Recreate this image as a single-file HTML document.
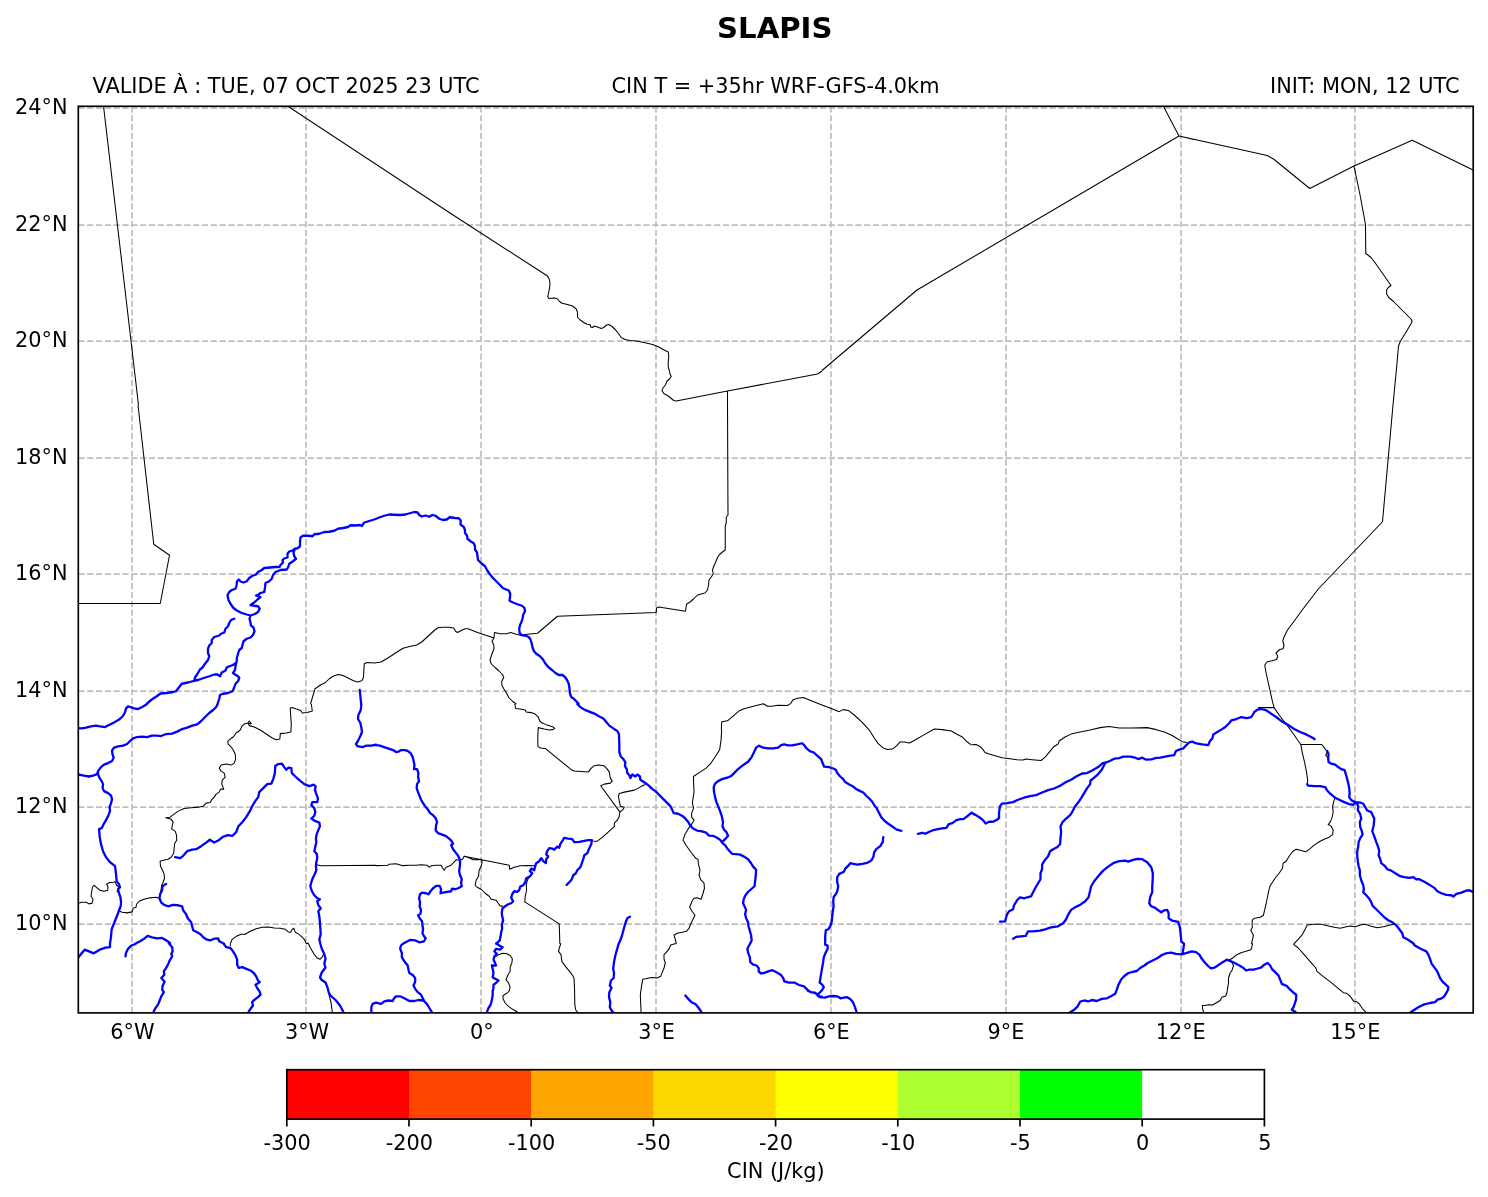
<!DOCTYPE html><html><head><meta charset="utf-8"><title>SLAPIS</title><style>html,body{margin:0;padding:0;background:#fff}svg{display:block}text{font-family:"DejaVu Sans","Liberation Sans",sans-serif;fill:#000}</style></head><body>
<svg width="1488" height="1197" viewBox="0 0 1488 1197">
<rect width="1488" height="1197" fill="#fff"/>
<clipPath id="c"><rect x="78.3" y="106.3" width="1394.9" height="906.6"/></clipPath>
<g clip-path="url(#c)">
<path d="M132 106.3V1012.9M306 106.3V1012.9M481 106.3V1012.9M656 106.3V1012.9M831 106.3V1012.9M1006 106.3V1012.9M1181 106.3V1012.9M1355 106.3V1012.9M78.3 108H1473.2M78.3 225H1473.2M78.3 341H1473.2M78.3 458H1473.2M78.3 574H1473.2M78.3 691H1473.2M78.3 807H1473.2M78.3 924H1473.2" fill="none" stroke="#808080" stroke-opacity="0.5" stroke-width="1.75" stroke-dasharray="6.17 2.66"/>
<path d="M103.5 106 138.5 405M287.5 106 450 213M450 213 547.5 276 549.5 279.75 550 284.75 549 291 547.75 296.5 548.75 298.5 553.75 298 557 298.5 559 301 562 303.25 567.5 304.5 572.5 306 576.25 309 577.5 312.25 577.5 317.25 580 319.75 583.75 322.5 587 324.25 590 324.5 590.75 327 592.5 327.5 594.25 326 597.5 327 601.25 328.5 603.75 327.5 606.25 325.25 608.75 324.5 612 326.5 615.5 329.75 618.75 334 621.25 337.5 625 339.5 630 340.5 636.25 341 645 342.75 652.5 344.5 658.75 347 663.75 349.75 668.25 352 668.75 356 668.25 362.25 668.25 367.25 669.5 371 670 374 671.25 376.5 669.5 379 667 381 665.5 384.75 663 388 662 390.5 663.75 393.5 667.5 395.5 671.25 398.5 673.75 400.5 676.25 401 727.5 391 817.5 374 822 371M727.5 391 727.5 405M822 370.5 917 290 1179 136M1163.25 106 1179 136 1194 139.5M1179 136 1267.25 155.5 1273.5 159 1309.75 188.5 1354 166 1412.25 140.25 1473 170M1354 166 1359.75 193.5 1363.5 213.5 1365.5 224.75 1365.75 253.5 1368.5 255.5 1371 257.5 1374.75 262.25 1391 285.5 1388.5 287.25 1386.75 289.75 1386.5 293.5 1388.5 297.25 1393.5 301.5 1403.5 311.5 1411 319 1412.25 321.5 1406 332.25 1400.5 341 1398.5 346 1396.5 368.5 1393 405M138 405 153.75 544.25 169.5 555.25 160.25 603.5 78 603.5M310.5 704 315 688.75 320.5 685 325.5 682.5 329.25 678.75 333 676.25 338 674.5 343 675.5 348 678 353 680.5 357.5 682 361.75 680.75 363.5 677.5 364.25 663.75 366.75 662.5 374.25 663 381 662 388 658 395.5 653 403 648.25 410.5 646.25 416.75 645 421.75 642 428 636.25 434.25 630.5 438 627.75 443 627.25 450 627.25M727.5 405 728 515 726.25 517 726.25 522.5 725.25 526.25 725.25 550 722.5 552 719.5 554.5 717.5 557.5 715.5 562.5 713.75 566.25 712.5 570 713.25 573.75 711.25 577 709 580 708.5 585 707.5 590 705 593 701.25 594 697.5 595 693.75 598.75 690 602 686.5 604.25 685.5 611.25 658.75 607 656.5 608 656.25 612.5 557.5 616.25 537.5 633.25 525 634.5 521.25 635.5 515.5 634 510.75 632.5 506.25 633.75 500 633.75 494.5 632.5 494 638M450 627.5 453.75 628 455.5 631.25 457.5 632.5 461.25 630.5 465 628.75 468 628.75 472.5 630.5 477.5 632.5 485 635 494 638 492 641.25 493.75 645 494 648.75 492.5 652.5 491.25 656.25 490 660 491.25 663.75 495 667.5 498.75 670.75 502.5 674.5 503.75 677.5 501.75 681.25 501.75 685 503.75 688.75 506.25 692.5 508.75 697.5 512.5 701.25 516.25 704M1393 405 1382.5 521.75 1318.5 588.75 1302.25 610 1287.25 630.5 1284.75 635.5 1282.75 640.5 1284 645.5 1283 648.75 1279.75 649.5 1276 653 1277.75 656.25 1276.5 659.5 1272.25 660.75 1267.25 661.75 1264.75 665 1266 672.5 1273 704M311.31 704 312.31 711.01 307.31 712.41 302.3 713.01 300.7 710.41 296.29 709.01 292.29 707.6 290.28 708.01 290.69 716.02 291.29 724.03 290.89 732.04 286.28 733.04 280.27 733.64 279.87 739.05 276.27 739.65 272.26 738.05 266.25 734.04 260.24 730.03 254.24 727.03 249.23 725.63 248.23 723.63 251.23 723.63 249.23 721.02 247.83 723.03 244.22 724.03 241.82 726.43 240.22 730.03 236.21 733.04 233.21 737.04 230.2 739.05 227.8 741.05 228.2 744.05 231.21 747.06 233.21 750.06 235.21 754.07 235.61 759.07 234.21 763.08 231.21 765.08 226.2 764.08 221.19 765.08 219.19 768.09 221.19 771.09 224.2 773.09 225.2 777.1 222.19 780.1 221.79 784.11 223.8 789.11 220.59 789.11 219.19 792.12 216.19 794.12 214.18 797.12 211.78 799.73 210.18 802.53 206.17 803.13 203.17 806.14 198.16 807.14 191.15 807.74 184.14 808.54 178.13 811.14 174.13 814.15 170.12 817.15 165.72 817.75 171.12 819.15 173.13 822.16 172.13 826.16 171.73 829.17 175.13 831.17 176.53 835.18 176.73 840.18 174.73 843.19 174.13 848.19 173.73 853.2 171.12 857.21 168.12 859.21 163.11 860.21 160.11 861.21 160.51 866.22 162.51 870.22 164.12 874.23 164.52 878.23 163.11 882.24 161.71 885.24 161.11 889.25 160.11 894.26 159.11 898.26 156.1 897.26 150.1 897.86 144.09 899.26 139.08 901.26 136.48 904.27 136.08 907.27 133.07 908.27 132.07 911.88 127.07 912.88 122.06 912.28 119.06 910.68 120.66 906.27 121.06 902.27 120.46 897.26 119.06 893.25 117.05 891.25 119.06 887.25 116.65 885.24 115.05 881.64 113.05 882.24 109.04 882.64 106.64 884.24 108.04 887.25 107.64 890.25 104.03 891.25 100.03 890.25 97.03 887.85 94.02 885.24 92.42 887.25 91.62 892.25 91.02 896.26 93.02 899.26 92.02 903.27 89.01 903.87 86.01 902.27 82.01 902.27 78 903.27M316.32 864.82 321.33 865.82 376 865.22M230.2 943.72 232.21 939.32 236.21 936.31 241.22 934.31 245.22 934.31 250.23 931.31 256.24 928.7 262.25 927.3 268.26 926.9 274.26 927.9 280.27 928.3 285.28 929.3 288.28 931.91 290.69 932.31 292.29 929.3 293.89 928.3 295.29 932.31 298.3 933.91 301.3 936.31 304.3 939.32 306.31 943.72M514.79 704 515.59 708.41 520.19 709.01 525.2 710.01 526.2 712.01 531.21 712.61 535.21 714.01 538.22 717.02 539.82 721.02 542.22 723.03 546.23 724.63 550.23 726.03 553.24 727.03 554.64 728.43 552.64 729.63 549.23 730.03 544.23 729.03 538.22 727.63 537.82 736.04 537.82 746.06 540.22 748.06 545.23 748.46 571.26 769.69 574.27 771.09 588.28 772.09 591.29 768.09 594.29 765.68 598.3 765.08 603.91 765.68 607.31 769.09 609.31 772.09 610.31 778.1 612.32 781.1 610.31 783.11 604.31 784.11 600.7 785.71 619.93 812.15M645.36 784.51 642.36 785.71 638.35 788.11 634.35 790.12 629.34 791.12 624.33 792.12 619.33 793.52 618.33 796.12 619.33 801.13 620.33 806.14 624.33 807.14 623.33 809.14 619.93 812.15 619.33 816.15 617.32 820.16 614.32 823.16 614.32 826.56 610.31 830.17 606.31 833.77 601.3 838.18 597.3 841.18 593.29 841.18M535.21 865.82 528.2 865.42 520.19 865.82 514.19 867.22 509.78 869.22 509.18 865.22 464.12 856.2 462.52 859.21 460.11 860.21 456.11 859.81 453.1 863.21 450.1 865.82 446.09 867.22 444.09 870.22 442.09 867.22 441.09 865.22 436.08 865.22 431.07 865.82 429.07 867.22 427.07 865.22 421.06 864.82 416.05 865.22 410.05 865.22 402.03 865.62 396.03 863.81 389.02 864.22 388.02 865.22 376 865.62M464.12 856.2 469.12 857.81 473.13 859.81 478.14 859.81 481.14 859.21 482.14 862.21 481.14 866.22 479.14 870.22 478.54 876.23 476.13 880.24 475.13 885.24 477.14 887.25 481.14 889.25 485.15 893.25 489.15 896.26 491.15 899.26 496.16 900.26 498.16 903.27 500.17 905.87 503.17 906.27M532.21 873.23 530.21 876.23 527.8 879.24 526.2 884.24 526.6 890.25 525.2 896.26 524.8 901.87 559.25 923.9 559.85 943.72M676.4 943.72 675 938.31 674 935.31 677 933.31 682.01 932.31 686.42 931.31 689.02 928.3 691.02 923.29 693.03 919.29 695.03 915.28 692.02 911.28 689.62 907.27 692.02 901.26 694.03 898.26 697.03 897.86 701.04 899.26 703.04 893.25 704.44 888.25 704.04 883.24 701.04 880.24 699.03 875.23 700.03 870.22 698.43 864.22 698.03 859.21 696.03 858.61 691.02 852.2 686.02 845.19 683.01 840.18 685.01 834.17 688.02 829.17 691.62 824.16 694.03 820.16 691.62 817.15 691.62 813.15 693.63 808.14 692.42 803.13 693.03 798.13 694.03 792.12 693.63 784.11 693.43 776.5 700.03 772.09 706.04 768.09 711.05 763.08 715.06 757.07 719.66 749.66 721.06 740.05 721.66 730.03M839.22 711.61 843.23 709.61 848.23 710.41 854.24 715.01 862.25 722.42 869.26 730.03 874.27 738.05 878.27 743.65 883.28 748.06 887.29 749.46 892.29 749.06 896.3 746.06 899.9 742.05 904.31 742.05 909.32 743.05 914.32 740.45 924.34 734.64 934.35 729.03 942.36 729.63 951.37 731.04 956.38 734.04 962.39 737.04 967.39 742.05 971.6 745.06M972 744.65 976.01 744.45 980.01 746.46 983.01 749.66 985.02 752.47 989.02 754.07 995.03 755.67 1002.04 757.67 1010.05 758.67 1017.06 759.67 1023.07 760.08 1026.07 759.07 1032.08 759.67 1041.09 760.48 1045.1 757.07 1050.1 751.06 1054.11 746.46 1058.12 744.05 1059.12 741.05 1065.12 737.04 1072.13 733.64 1080.15 732.04 1090.16 730.03 1100.17 727.63 1109.18 726.43 1119.2 728.03 1132.22 728.03 1147.24 727.63 1156.25 729.63 1164.26 732.04 1171.27 735.04 1176.27 738.05 1182.28 741.65 1187.29 742.45M1269.6 887.25 1268 894.26 1266.4 902.27 1264.79 909.28 1263.39 915.28 1260.39 917.29 1254.38 918.29 1252.38 919.89 1251.98 924.3 1252.38 927.3 1250.77 930.3 1253.38 935.31 1252.38 940.32 1251.38 943.72M1273.11 704 1274.11 707.6 1258.09 707.6M1274.11 707.6 1279.12 715.01 1286.13 724.03 1294.14 735.04 1300.75 744.45 1321.78 744.45 1324.58 748.06 1327.18 752.06 1325.78 755.07 1328.19 758.07M1300.75 744.45 1302.15 752.06 1304.55 762.08 1306.56 772.09 1307.76 781.1 1307.16 784.11M1335.19 797.73 1333.79 801.13 1332.59 807.14 1333.19 812.15 1332.19 817.15 1330.19 822.16 1328.19 824.56 1331.19 826.16 1333.19 830.17 1332.59 834.58 1329.19 837.18 1324.18 839.18 1319.17 841.78 1314.17 845.19 1310.16 848.59 1305.76 851.8 1301.15 850.6 1296.14 849.19 1292.54 851.8 1289.13 856.2 1286.13 861.21 1283.12 863.21 1282.52 868.22 1279.12 873.23 1275.11 878.23 1271.11 884.24 1269.51 887.25M1294.14 943.72 1298.15 939.32 1302.55 934.31 1305.15 929.3 1307.16 924.9 1314.17 924.3 1321.18 924.3 1328.19 925.9 1334.19 927.3 1340.2 928.3 1345.21 926.9 1350.22 925.9 1355.22 926.7 1360.23 924.9 1365.24 924.3 1370.24 925.9 1377.25 927.7 1383.26 926.7 1389.27 925.3 1394.27 924.3M721.33 730 721.67 721.67 727.5 720.83 733.33 715.83 739.17 710.83 744.17 708.67 753.33 706.33 763.33 703.83 767.5 706.17 771.67 706.17 778.33 705.33 787.5 705.5 790.83 703.33 793 699.67 797.5 698.33 803.33 697.5 810 700.33 820 704.17 830 708 839.17 711.67M230.17 944 230.5 946M306.33 944 308 943 310.5 948 313.83 953.83 317.17 958 320 959.33 322.67 956.33 323.83 953M328.75 993.75 331 1002.5 332.5 1013.75M495.17 957.17 498.5 954.67 502.67 953.33 506.83 953.83 510.17 955.5 512.33 958.83 511.83 963 510.17 967.17 510.17 971.33 507.67 975.5 506 979.67 508.5 983 510.17 987.17 509 991.33 506 993.83 503 995.5 503 998.83 505.17 1003 508.5 1006.33 512.67 1009.33 517.67 1012.17 520.17 1013.83M559.83 943.67 560.67 943.83 559.33 948 558.5 951.33 561 954.67 561.83 961.33 566 967.17 570.17 972.17 572.67 975.5 574 978M574 978 574.5 988 574.83 1004.67 575.67 1009.67 577.33 1012.17 579 1013.83M676.33 943.67 674.83 943.83 670.67 945 669.33 948.33 666.5 952.17 664 954.67 664 958.83 665.33 963 664 968 662.33 972.17 660.67 976.33 657.33 978 652.33 977.5 649 978 645.67 978.83 642.67 979.33 641.5 986.33 640.33 994.67 640.67 1003 641.17 1013.83M1251.33 943.67 1252.67 943.83 1251 949.67 1246 951.33 1241 952.67 1236.83 954.67 1232.67 958 1229.33 960 1231.83 962.17 1233.5 965.5 1232.33 969.67 1230.17 973 1228.5 978 1228.5 983 1227.67 988 1226.83 993 1225.67 996 1221.83 997.17 1220.17 1000.5 1216 1003 1212.67 1005 1208.5 1004.67 1205.17 1005.5 1202.33 1005.5 1202.67 1008.83 1204 1013.83M1294.17 943.67 1293.67 944.33 1298.33 948 1304.17 954.67 1310 961.33 1315.83 968 1317 971.33 1323.33 976.67 1330 981.67 1336.67 987.17 1343.33 992.67 1346.67 993.33 1350 996 1352.5 999.67 1353.67 1001.33 1356.67 1001.67 1359.17 1003.83 1362.5 1008.83 1365.83 1012.17 1367.5 1014.33" fill="none" stroke="#000" stroke-width="1.05" stroke-linejoin="round"/>
<path d="M450 517 446.75 519.5 443 520 439.25 518.75 435.5 515.75 432.5 515 429.25 516.75 425.5 515.5 421.75 516.5 419.25 515 417.5 512.5 414.25 512 410.5 513 405.5 514.5 400.5 515 394.25 514.75 389.25 514.5 384.25 515.75 379.25 517.5 374.25 519.5 369.25 521 364.25 522.5 361.75 526 360 525 355.5 525.5 350.5 525.25 348 527 343 528 338 528.75 334.25 530.75 329.25 531.75 324.25 532 319.25 533.75 314.25 534.25 312.5 536.25 308 535.75 303 535.75 300.5 537.5 300 541.25 300 546.25 297.5 548.25 295 548.75 292.5 550.5 289.25 551.5 287.5 553.75 287.5 557.5 284.25 558.5 282.5 560 283 562.5 280.5 565 279.5 567 275.5 567 270.5 567.5 264.25 568 261.75 570 258 572 256 574.5 252.5 575.75 249.25 578 246.75 581.25 243.5 582.5 240.5 581.5 238.75 579.5 237 581.25 236.5 585.5 235.5 588.75 231.75 590 229.25 592 227.5 595 228.5 600 230.5 603.75 233 607.5 236.75 610.5 241.75 613 246.75 614.5 250.5 615.5M295 548.75 293.5 552.5 294.25 556.25 296 558.75 293 561.25 289.25 563.75 288 567.5 286.75 569.5 280.5 570 275.5 572 273 575 271.75 578.75 269.25 581.25 265.5 583 265 587.5 264.25 592 260.5 593 258.5 594.5 256 595.5 260.5 597 257.5 599.5 254.25 602.5 250.5 605 254.25 605.75 258 606.25 259.75 608.75 258 612 255 614 250.5 615.5 249.5 618.75 250.5 622.5 251 625.5 253.5 627.5 254.5 631.25 253 635 250.5 637.5 246.75 638.75 243.5 641.25 242.5 645 241.75 648 239.25 650 238 653.75 237 657.5 236.5 662.5 235.5 666.25 235 670 233 673 235 674.5 238 676.25 239.25 678 238 681.25 235.5 683.75 234.25 687.5 232.5 691.25 228 693 223 693.75 220 695 219.25 698.75 217.5 704M234.25 618.75 231 620 229.25 623 228 626.25 225.5 628.75 224.25 632.5 221 633.75 219.25 635.5 214.25 637 211.75 640 211.75 643 209.25 645.5 208 648.75 208 653 209.25 656.25 208 660 205 663.75 202.5 667.5 200 669.5 197.5 673.75 195 677.5 194.25 680.75M236.5 662.5 233 665 229.25 666.25 226.75 667.5 225.5 670.5 221.75 672.5 220 676.25 217.5 674.5 214.25 674.5 209.25 676.25 203 678.25 198 680 194.25 680.75 188 682.5 181.75 683.75 179.25 687 176 691.25 173 692 166.75 693 160.5 693.5 156.75 696.25 151.75 699.5 146.75 703.75M450 517.25 455 518 458.75 518.25 460.75 520.5 460.5 524.5 463.75 527 465 530 465 533 467 535.5 467.5 538.75 470.5 541.25 473.75 543.25 475 546.25 475 549.5 477 552.5 477.5 556.25 478 560 481.25 563.25 485 566.25 487 570 489.5 573.75 492.5 577.5 496.25 581.25 500 585 503 588.25 506.25 589.5 508.75 590.5 510.25 593.75 510 597.5 509.5 600.75 513 602.5 517.5 604.25 522 605.75 524.5 608 525 611.25 523.25 614.5 522.5 618.75 521.25 622.5 520 625 519.25 628.75 519.5 632.5 521.25 635 525 635.5 528.75 637 530.5 639.5 531.75 643.75 532.5 647.5 534 651.25 536.25 653.75 540 656.25 543 659.5 545 663 548 666.75 552 670 555.5 673 558.75 675 562.5 675 565 677 567 680 568.75 683.75 569.5 688.75 570 693.75 571.25 697 573.75 698.75 576.25 701.25 578.75 704M147.09 704 143.09 706.4 138.08 709.01 134.08 708.41 130.47 707 128.07 706.4 126.06 708.41 125.06 712.01 123.06 716.02 119.06 719.62 114.05 722.42 109.04 725.03 105.04 727.03 100.03 726.43 96.02 725.63 91.02 726.43 86.01 727.63 82.01 728.43 78 728.03M217.59 704 216.19 707 213.18 710.01 209.18 713.01 206.17 716.02 203.17 719.02 200.16 722.02 197.16 724.43 192.15 725.63 187.15 727.63 182.14 729.03 177.13 731.64 172.13 733.64 166.12 734.04 161.11 736.04 157.11 735.64 152.1 735.64 147.09 737.04 142.09 736.64 137.08 737.04 133.07 738.45 130.07 741.05 127.07 744.05 123.06 745.66 118.05 746.46 114.05 747.66 112.05 750.46 112.45 754.07 113.65 757.67 112.05 761.08 108.04 763.08 104.03 764.68 101.03 767.08 98.03 771.09 97.03 774.09 93.02 775.7 89.01 776.5 84.01 775.7 78 774.49M98.03 771.09 98.03 774.09 99.63 778.1 101.63 781.1 103.03 784.11 102.63 788.11 104.03 791.12 108.04 793.12 111.04 795.72 112.05 799.13 111.04 803.13 109.64 807.14 110.04 811.14 108.44 815.15 106.04 820.16 103.63 824.16 101.63 828.17 99.03 829.17 99.63 836.18 101.03 844.19 103.03 851.2 106.04 857.21 110.04 862.21 115.05 866.22 116.05 874.23 116.65 881.24 119.06 884.24 120.06 887.25 118.05 889.25 119.06 893.25 120.46 897.26 121.06 902.27 120.66 906.27 119.06 910.28 117.65 914.28 115.65 919.29 113.65 924.3 111.65 929.3 111.04 936.31 110.04 943.72M175.13 857.21 180.14 858.21 183.14 855.8 187.15 851.2 192.15 849.6 196.16 849.19 201.17 846.19 206.17 842.59 209.78 839.78 214.18 842.59 218.19 840.58 223.19 836.58 228.2 835.18 232.21 835.78 236.21 832.17 238.22 826.56 242.22 822.16 246.23 817.15 249.83 811.14 252.23 806.14 255.24 801.13 258.24 797.12 259.24 792.12 263.25 788.11 267.25 784.11 271.26 783.71 273.26 779.1 274.86 773.09 275.26 766.08 278.27 764.08 281.87 763.68 284.28 767.08 286.28 769.69 288.28 767.69 291.29 768.09 291.89 773.09 295.29 776.5 299.3 780.1 304.3 784.11 309.31 786.11 313.92 784.71 315.72 786.51 314.92 789.72 316.32 794.12 317.92 798.13 317.32 802.13 312.31 802.13 311.31 805.14 314.32 808.14 315.32 812.15 314.32 815.75 311.31 818.55 314.32 820.56 319.32 822.56 319.92 826.16 318.32 830.17 316.72 834.17 315.92 838.18 316.32 842.19 315.32 846.59 314.32 851.2 316.72 853.8 317.32 857.81 316.32 862.21 315.92 866.22 316.32 870.22 314.72 874.23 312.72 878.23 311.31 882.24 310.31 886.24 311.91 891.25 314.32 895.26 317.32 898.26 319.92 899.26 317.32 901.26 318.32 905.27 320.73 908.27 318.32 911.28 319.32 916.28 319.92 922.29 320.33 928.3 320.73 934.31 319.32 939.32 320.33 943.72M361.38 704 360.78 710.01 358.38 715.01 357.98 719.02 360.38 723.03 361.38 728.03 361.98 732.04 360.38 736.04 358.38 740.05 355.97 744.05 357.38 746.06 362.38 747.06 366.39 745.66 371.39 745.66 376 744.65M166.12 883.84 162.51 886.24 162.11 890.25 160.11 894.26 159.51 898.26 161.11 902.27 164.12 904.87 168.12 906.27 173.13 904.87 178.13 905.27 182.14 906.27 183.14 910.28 186.15 914.28 187.75 918.29 191.15 922.29 192.15 926.3 193.15 930.3 197.16 932.31 200.56 934.31 203.17 937.31 206.17 939.32 210.18 940.32 214.18 938.72 218.19 938.31 219.19 941.32 224.2 943.72M135.08 943.72 140.08 941.32 144.09 938.72 147.69 935.91 152.1 937.31 157.11 938.31 162.11 937.91 166.12 940.32 170.12 942.92M376 745.06 380.01 745.66 384.01 747.06 388.02 748.46 393.02 750.06 396.03 752.06 398.43 751.66 401.03 750.06 405.04 750.06 408.04 751.06 411.05 753.67 412.65 757.07 413.65 761.08 414.45 765.08 414.05 769.09 417.06 769.09 418.46 773.09 418.06 777.1 419.06 781.1 417.06 784.11 416.65 788.11 418.06 792.12 419.66 796.12 421.06 799.73 423.06 803.13 425.07 806.14 427.67 809.14 430.07 813.15 433.08 815.15 435.68 818.15 437.08 822.16 436.08 825.16 435.68 830.17 438.08 833.17 442.09 834.58 446.09 836.18 449.1 838.58 451.7 841.18 453.1 843.79 451.1 845.19 453.1 849.19 455.71 852.6 458.11 855.8 459.71 859.21 460.11 863.21 459.71 867.22 459.11 871.22 460.11 875.23 461.72 879.24 461.11 883.24 461.72 886.24 458.11 888.25 455.11 889.25 452.1 888.65 451.1 891.25 447.1 891.85 443.09 892.65 440.49 893.25 441.09 889.25 439.69 885.84 436.08 885.84 433.08 888.25 430.47 891.25 428.47 894.26 426.07 893.25 422.06 892.65 420.06 894.26 419.06 898.26 420.06 902.27 419.66 906.27 421.06 910.28 420.46 913.88 418.06 915.28 419.66 918.29 422.06 921.29 422.46 925.3 423.06 929.3 422.46 933.31 424.06 936.31 425.67 938.31 424.06 941.32 419.06 942.32 415.05 940.32 410.05 939.92 406.04 941.92 403.04 943.72M577.27 704 580.27 707 584.28 709.61 589.29 711.61 594.29 713.61 599.3 716.42 603.31 718.42 606.31 722.02 609.31 725.63 613.32 728.43 617.32 731.04 618.93 734.04 619.33 744.05 619.33 752.06 620.73 756.47 623.33 759.07 625.33 762.08 624.93 766.08 626.74 769.09 627.34 773.09 629.34 775.1 630.34 778.1 632.34 774.49 635.35 776.5 637.35 774.49 639.95 776.5 640.35 779.7 643.36 781.7 646.36 783.71 649.37 786.11 652.37 789.11 655.38 791.12 658.38 794.12 661.38 797.12 664.39 800.13 667.39 803.13 670.4 806.14 672.4 810.14 673.6 813.15M566.66 884.84 569.26 882.24 571.86 879.24 573.26 875.23 575.87 873.23 577.27 870.22 580.27 867.22 581.88 863.21 583.28 859.21 584.28 855.2 587.28 853.2 589.29 848.19 591.29 844.19 591.89 840.18 588.28 840.18 584.28 840.78 579.27 841.78 574.27 842.19 572.26 839.18 568.26 838.58 564.25 837.78 562.25 841.18 560.25 844.19 559.25 847.79 557.24 846.59 554.24 849.8 552.24 848.59 549.23 848.19 547.23 851.2 546.23 854.2 548.23 856.6 546.23 859.21 545.83 863.21 543.22 861.21 541.22 858.21 539.22 861.21 536.22 863.21 535.21 866.22 534.21 870.22 531.21 868.62 529.81 871.22 532.21 873.23 530.21 876.23 526.2 878.23 525.2 882.24 523.2 885.24 520.19 886.65 519.19 890.25 517.19 891.85 514.19 891.25 512.18 894.26 511.18 897.86 513.18 901.26 511.18 903.27 508.18 904.27 505.17 906.27 502.57 908.27 501.77 912.28 502.17 916.28 503.17 920.29 501.77 924.3 502.17 928.3 501.17 932.31 500.57 936.31 499.77 940.32 496.16 943.72M629.94 916.69 627.34 918.29 625.33 923.29 623.93 928.3 622.33 934.31 620.33 940.32 618.73 943.72M674 813.15 678.01 813.75 682.01 815.75 685.01 818.15 688.02 821.76 690.02 825.16 693.03 828.57 697.03 830.57 702.04 831.37 706.04 832.57 709.05 835.58 713.05 835.78 717.06 837.78 720.46 840.18 722.47 843.19 725.07 845.19 727.07 848.19 729.67 851.2 732.08 853.8 736.08 854.2 740.09 854.6 744.09 856.6 748.1 859.21 751.1 863.21 753.11 866.62 756.11 869.82 755.71 876.23 755.11 881.24 754.51 886.24 751.1 889.25 747.7 892.25 745.1 895.86 743.69 899.26 743.09 903.27 744.49 906.27 746.1 909.88 745.1 914.28 746.1 918.29 748.1 922.29 748.5 926.3 749.7 930.3 751.1 935.31 751.7 940.32 750.1 943.72M722.06 842.19 725.07 839.18 728.07 835.78 726.47 832.17 724.07 829.77 722.47 826.16 723.07 822.16 722.06 817.15 720.46 812.15 718.46 807.14 716.46 802.13 715.06 797.12 714.05 792.12 713.65 787.11 715.06 783.71 718.06 781.1 722.06 779.1 727.07 777.7 731.08 776.1 734.08 773.09 738.09 769.09 743.09 765.08 748.1 761.68 751.7 757.07 754.11 752.06 756.11 747.66 759.11 745.66 763.12 747.66 768.13 748.46 773.13 748.46 778.14 747.66 781.14 745.06 784.15 744.45 788.15 745.46 792.16 745.46 797.17 744.45 802.17 743.25 804.17 745.06 806.58 748.46 809.78 751.06 813.79 752.47 817.19 755.67 821.2 759.07 822.6 763.08 824.2 766.68 829.21 767.08 833.21 768.49 835.82 769.69 837.22 773.09 840.22 776.5 843.23 779.1 845.23 782.1 849.24 784.51 853.24 786.51 856.24 789.11 860.25 791.12 863.25 792.52 866.26 795.72 869.26 798.53 872.27 801.73 874.27 805.14 876.67 808.14 878.67 812.15 881.28 817.15 884.28 820.56 888.29 823.76 892.29 826.56 896.3 829.37 901.31 830.77M917.93 833.77 922.33 832.77 925.34 833.77 929.34 831.77 934.35 829.77 940.36 828.57 946.37 827.77 948.77 824.16 952.37 823.16 956.38 820.16 960.38 819.15 963.39 819.15 967.39 816.15 971.6 812.55M883.28 837.18 882.68 842.19 880.28 846.19 876.27 849.19 874.27 852.2 873.27 857.21 871.26 860.61 867.26 862.81 862.25 863.81 857.25 864.62 853.24 863.81 850.24 863.21 847.83 866.22 845.23 868.62 843.83 871.83 839.22 873.83 837.22 877.23 837.22 882.24 838.22 886.24 837.22 891.25 835.82 894.26 833.81 896.66 833.21 901.26 833.61 906.27 832.81 911.28 832.21 916.28 831.81 921.29 830.21 926.3 828.21 929.3 825.8 930.3 825.2 936.31 825.2 943.72M972 813.15 976.01 815.15 980.01 817.75 983.01 820.16 985.62 823.56 989.02 821.76 993.03 821.76 997.03 819.76 999.04 818.15 999.04 812.15 1000.04 806.14 1002.04 803.53 1007.05 803.13 1013.06 802.13 1018.06 799.73 1024.07 797.73 1030.08 796.12 1036.09 795.12 1042.09 792.52 1048.1 790.12 1054.11 788.51 1060.12 785.71 1065.12 782.51 1071.13 779.7 1076.14 776.5 1082.15 773.49 1087.15 773.09 1092.16 770.49 1098.17 767.08 1102.17 763.48 1106.18 762.48 1110.19 760.68 1114.19 758.67 1119.2 758.07 1123.2 756.67 1130.21 756.67 1135.22 757.67 1138.22 759.07 1142.23 757.67 1146.23 759.67 1151.24 759.47 1155.25 758.07 1160.25 757.67 1165.26 756.67 1170.27 755.67 1174.27 755.07 1175.87 751.06 1179.28 749.66 1183.28 748.46 1186.29 745.06 1189.29 742.45 1192.3 741.65 1196.3 743.45 1202.31 744.45 1208.32 745.06 1209.92 741.05 1212.32 738.45 1213.32 734.44 1217.33 732.04 1221.33 729.63 1225.34 727.03 1229.35 723.03 1231.35 720.42 1236.35 719.02 1241.36 717.02 1246.37 718.02 1251.38 717.02 1254.38 712.01 1257.38 709.61 1261.39 709.01 1266.4 710.41 1269.6 712.41M1105.18 763.08 1104.18 765.08 1101.77 769.69 1098.17 774.09 1094.16 777.7 1090.56 780.5 1090.16 784.11 1087.15 788.11 1084.15 793.12 1081.15 798.13 1078.14 802.53 1074.54 807.14 1072.13 812.15 1070.13 815.15 1066.13 818.55 1062.52 822.16 1060.52 826.16 1061.12 832.17 1060.52 838.18 1060.12 844.19 1057.11 847.19 1053.11 849.19 1050.1 851.2 1048.1 856.2 1044.5 860.61 1042.09 864.62 1042.09 869.22 1040.49 873.23 1040.49 879.24 1038.09 883.24 1035.69 887.25 1033.08 892.25 1031.08 896.26 1027.07 897.26 1024.47 898.26 1020.06 897.26 1017.06 900.26 1014.06 905.27 1013.06 909.28 1009.05 911.28 1007.05 914.28 1005.04 921.29 1000.04 921.69M1013.06 938.72 1016.06 936.91 1021.07 936.31 1025.67 935.91 1028.08 931.31 1033.08 931.31 1040.09 930.7 1045.1 929.3 1051.11 927.3 1058.12 926.3 1063.12 923.29 1066.13 919.29 1068.13 914.68 1071.13 909.88 1075.14 907.27 1080.15 904.87 1085.15 901.26 1088.56 897.26 1089.76 892.25 1091.16 886.24 1094.16 881.24 1098.57 875.83 1103.18 870.62 1108.18 866.62 1113.19 863.21 1119.2 861.21 1125.21 860.61 1128.21 861.61 1132.22 860.21 1137.22 858.81 1142.23 859.21 1147.24 862.21 1151.24 867.22 1152.84 873.23 1152.64 880.24 1152.24 886.24 1152.24 892.25 1150.24 896.66 1149.24 903.27 1151.24 906.27 1155.25 907.87 1158.25 910.28 1161.25 912.28 1164.26 910.28 1167.26 909.88 1168.66 913.28 1168.66 918.29 1172.27 920.69 1178.28 921.89 1179.88 927.3 1180.68 934.31 1181.28 941.32 1183.88 943.72M1269.51 712.41 1270.11 713.01 1276.12 717.02 1282.12 721.62 1288.13 725.03 1294.14 729.03 1300.15 732.04 1306.16 734.44 1311.16 737.04 1314.57 739.05M1307.16 784.11 1308.16 785.71 1314.17 786.11 1320.17 786.11 1325.18 787.11 1327.18 790.52 1330.19 793.72 1333.19 796.12 1335.19 797.73 1339.2 799.73 1344.21 802.13 1349.21 804.13 1353.22 804.74 1355.82 802.13M1327.18 751.06 1328.59 754.07 1328.19 758.07 1328.59 762.08 1331.19 763.68 1335.19 764.68 1338.2 767.08 1341.2 769.09 1344.61 770.09 1345.81 774.09 1347.21 779.1 1348.21 783.11 1349.21 788.11 1349.61 793.12 1349.21 797.12 1351.22 800.13 1355.22 802.13 1360.23 802.53 1363.23 803.73 1365.24 807.14 1367.24 810.54 1371.24 812.15 1372.65 815.15 1374.25 818.55 1373.85 824.16 1373.25 827.17 1372.24 831.17 1373.85 835.18 1375.25 839.18 1376.65 843.19 1378.25 847.19 1379.25 851.2 1378.65 855.2 1380.26 859.21 1381.26 863.21 1384.66 865.82 1387.26 869.22 1391.27 870.62 1395.28 873.23 1399.28 875.83 1404.29 877.23 1409.29 877.83 1413.3 877.23 1416.3 879.24 1419.31 879.24 1424.31 881.84 1429.32 884.64 1434.33 887.85 1437.33 891.25 1441.34 893.25 1446.34 894.86 1451.35 895.26 1453.35 896.66 1456.36 893.85 1461.36 892.65 1466.37 890.65 1469.38 890.25 1472.38 891.65M1356.22 802.53 1358.23 806.14 1357.83 810.14 1360.23 814.15 1361.23 818.55 1359.83 822.16 1360.23 827.17 1361.83 831.17 1362.63 834.58 1360.23 838.18 1358.63 842.19 1358.23 846.59 1357.22 851.2 1357.22 856.2 1357.83 861.21 1358.63 866.22 1359.83 870.22 1359.83 875.23 1361.23 880.24 1363.23 885.24 1363.83 889.25 1363.23 892.25 1366.24 895.26 1369.24 898.66 1371.24 902.27 1372.65 905.87 1376.25 909.28 1380.26 913.28 1384.26 917.29 1388.27 920.29 1392.27 922.29 1396.28 925.3 1399.28 929.3 1402.28 933.31 1403.29 937.31 1407.29 939.32 1410.3 941.32 1413.9 943.72M110 943 110 947.17 105.5 947.67 100.5 949.33 93.83 953.33 84.67 949.67 78 957.67M135.5 944 131.33 945.5 128 948.83 126 953 125.5 956.33M168.83 943.33 172.17 947.17 172.67 951.33 171.33 953.83 172.17 956.33 169.67 960.5 168 964.67 165.5 968.83 163.83 971.33 164.33 974.67 161.33 978 164.67 981.67 162.67 985.5 162.17 989.67 163.83 992.17 161.33 996.33 159.67 1000.5 158 1004.67 155.5 1008 153.83 1011.33 153 1013.83M223.83 944 226.33 947.17 230.5 948 233 951.33 235.5 955.5 237.17 959.67 237.17 964.67 238.83 968 242.17 967.17 246.33 968.83 250.5 970.5 253.83 973 256.33 976.67 258 980.5 259.67 982.17 255.5 984.67 257.17 988 259.67 991.67 260.5 994.67 258 997.17 254.67 999.67 252.17 1002.17 253 1005.5 250.5 1008.83 248.83 1011.33 248 1013.83M320.25 943.5 321.75 948.75 324.25 953.75 325.5 958.75 324.25 963.75 325.5 967.5 321.75 972.5 320 977.5 321.75 980 325.5 982.5 327.5 987.5 328.75 992.5 330.5 995.5 335.5 1000 340 1005.5 343 1011.25 344.25 1015M403 943.67 401 945.5 400.17 948.83 401.83 953 401.83 957.17 404.33 961.33 407.67 965.5 408.5 969.67 409.33 973 412.67 975 415.17 978 415.17 981.67 413.5 985.5 415.17 988.83 417.67 992.17 421 994.67 422.67 998 424.33 1001.33 426.83 1003.83 429.33 1008 431.83 1012.17 432.67 1014.33M422.67 1000.5 418.5 1000 414.33 1001 409.33 1001 404.33 998.33 400.17 996.33 396 996.33 394 998.33 392.67 1001 388.5 1000.5 384.33 1001.33 381 1003.83 376 1002.67 372.67 1003.83 371.33 1007.17 371.33 1013.83M496.17 943.33 496.83 943.83 499.33 945.5 502.67 947.17 500.17 949.67 496 948.83 494.33 951.33 496.83 953.83 494.33 956.33 493.5 959.67 495.17 963 496 965.5 491.83 965.5 492.67 968.83 493.5 973 492.67 977.17 495.17 978.83 498.5 980.5 496 983 493.5 984.67 493.5 988 492.67 991.33 492.67 995.5 491.83 999.67 491 1003.83 490.17 1005.5 488.5 1008 486.83 1012.17 486 1014.33M618.67 943.67 617 949.67 615.33 955.5 614 962.17 613.17 968.83 614 973 613.67 978 611 980.5 609.83 985.5 611.5 988 609.33 992.17 609 997.17 610.33 1002.17 609.83 1007.17 611.5 1010.5 614.83 1013.83M685.33 995.5 688.17 998.83 691.5 1002.17 695.67 1004.33 698.67 1008 701.5 1012.17 702.67 1014.33M750.17 943.67 749 945.5 747.33 948.83 748.17 953 749.83 957.17 750.33 962.17 753.17 964.67 756.5 965.5 758.67 968 758.67 971.33 760.67 973.33 764 973 768.17 971.33 772.33 970.17 776.5 972.17 780.67 974.67 783.17 978 784.33 981.33 789 982.67 794.83 982.67 799 985 804 986.33 807.33 989.67 810.67 992.17 814.83 992.67 818.17 994.67 819.83 996.67 822 996.67M825.17 943.67 825.17 944.67 827.67 945.5 827.67 948.83 825.5 953 823.83 957.17 823 963 821.83 969.67 820.67 976.33 819.67 982.67 822.17 984.67 823.83 987.17 822.17 990 819.67 992.67 817.67 994.67M808 991 811.33 992.17 815.5 993 817.67 995.5 819.67 997.17 824.67 997.67 828.83 996.33 833.83 996 838 996.67 840.5 998.33 843.83 997.67 847.17 997.17 850.5 999.33 853 1002.17 854.67 1006.33 856.33 1011.33 857 1014.33M1067.67 1014.33 1070.17 1012.17 1074.33 1009.67 1077.67 1006.33 1080.17 1001.67 1084.33 1000.5 1088.5 1001.33 1091.83 1000 1096.83 1001 1101.83 998.83 1106.83 998.33 1111 996.33 1115.17 993.83 1116.83 989.67 1118.5 984.67 1121 979.67 1124.33 976 1128.5 973 1132.67 971.83 1136.83 971 1140.17 968 1144.33 965.5 1147.67 963 1152.67 960.5 1157.67 958 1161.83 955 1166 953.33 1171 952.67 1176 953.83 1181.83 954.33 1187.67 952.67 1191.83 951.33 1196 952.17 1199.33 954.67 1201.83 958.83 1205.17 963 1208.5 966.33 1211 968.33 1214.33 967.67 1218.5 965 1222.67 962.17 1226.83 959.67 1231 961.33 1235.17 963.33 1239.33 965.5 1243.5 968 1246 970.5 1249.33 969.67 1253.5 969.67 1257.67 968.5 1261 967.67 1264.33 964.67 1267.67 963 1270.17 965.5 1271.83 968.83 1275.17 972.17 1278.5 975.5 1280.17 979.67 1281.83 983.83 1286.83 986 1290.17 989.67 1293.5 992.67 1296.33 995 1296 999.67 1294.67 1003.83 1293.5 1007.17 1291.83 1009.67 1295.17 1011.67 1297.67 1014.33M1183.83 943.33 1184 943.83 1183.5 948 1182.67 952.17 1181.83 954.33M1413.83 943.67 1414.17 945 1419.17 948 1423.33 950 1426.33 951.33 1428.33 954.67 1430 958.83 1431.67 963.83 1434.17 967.17 1436.67 970.5 1438.33 973.83 1440 978 1442.5 981.67 1445.83 984.67 1448.33 987.17 1448 989.67 1446.33 993 1444.17 996.33 1441.67 998.33 1437.5 999.67 1435 1002.17 1430 1003 1423.33 1004.67 1418.33 1007.17 1413.33 1010.5 1410.83 1012.17 1407.5 1014.33M359.75 690 360.5 697.5 361.25 705" fill="none" stroke="#0000ff" stroke-width="2.3" stroke-linejoin="round" stroke-linecap="round"/>
</g>
<rect x="78.3" y="106.3" width="1394.9" height="906.6" fill="none" stroke="#000" stroke-width="1.67"/>
<text x="774.8" y="37.5" font-size="29.17" font-weight="bold" text-anchor="middle">SLAPIS</text>
<text x="92.6" y="93" font-size="20.83">VALIDE À : TUE, 07 OCT 2025 23 UTC</text>
<text x="775.5" y="93" font-size="20.83" text-anchor="middle">CIN T = +35hr WRF-GFS-4.0km</text>
<text x="1459.6" y="93" font-size="20.83" text-anchor="end">INIT: MON, 12 UTC</text>
<text x="67.6" y="114.0" font-size="20.83" text-anchor="end">24°N</text>
<text x="67.6" y="231.0" font-size="20.83" text-anchor="end">22°N</text>
<text x="67.6" y="347.0" font-size="20.83" text-anchor="end">20°N</text>
<text x="67.6" y="464.0" font-size="20.83" text-anchor="end">18°N</text>
<text x="67.6" y="580.0" font-size="20.83" text-anchor="end">16°N</text>
<text x="67.6" y="697.0" font-size="20.83" text-anchor="end">14°N</text>
<text x="67.6" y="813.0" font-size="20.83" text-anchor="end">12°N</text>
<text x="67.6" y="930.0" font-size="20.83" text-anchor="end">10°N</text>
<text x="132.4" y="1039" font-size="20.83" text-anchor="middle">6°W</text>
<text x="307.1" y="1039" font-size="20.83" text-anchor="middle">3°W</text>
<text x="481.8" y="1039" font-size="20.83" text-anchor="middle">0°</text>
<text x="656.6" y="1039" font-size="20.83" text-anchor="middle">3°E</text>
<text x="831.3" y="1039" font-size="20.83" text-anchor="middle">6°E</text>
<text x="1006.0" y="1039" font-size="20.83" text-anchor="middle">9°E</text>
<text x="1180.7" y="1039" font-size="20.83" text-anchor="middle">12°E</text>
<text x="1355.4" y="1039" font-size="20.83" text-anchor="middle">15°E</text>
<rect x="286.80" y="1069.7" width="122.70" height="49.399999999999864" fill="#ff0000"/>
<rect x="409.00" y="1069.7" width="122.70" height="49.399999999999864" fill="#ff4500"/>
<rect x="531.20" y="1069.7" width="122.70" height="49.399999999999864" fill="#ffa500"/>
<rect x="653.40" y="1069.7" width="122.70" height="49.399999999999864" fill="#ffd700"/>
<rect x="775.60" y="1069.7" width="122.70" height="49.399999999999864" fill="#ffff00"/>
<rect x="897.80" y="1069.7" width="122.70" height="49.399999999999864" fill="#adff2f"/>
<rect x="1020.00" y="1069.7" width="122.70" height="49.399999999999864" fill="#00ff00"/>
<rect x="1142.20" y="1069.7" width="122.70" height="49.399999999999864" fill="#ffffff"/>
<rect x="286.8" y="1069.7" width="977.6000000000001" height="49.399999999999864" fill="none" stroke="#000" stroke-width="1.67"/>
<text x="287.20" y="1149.5" font-size="20.83" text-anchor="middle">-300</text>
<text x="409.40" y="1149.5" font-size="20.83" text-anchor="middle">-200</text>
<text x="531.60" y="1149.5" font-size="20.83" text-anchor="middle">-100</text>
<text x="653.80" y="1149.5" font-size="20.83" text-anchor="middle">-50</text>
<text x="776.00" y="1149.5" font-size="20.83" text-anchor="middle">-20</text>
<text x="898.20" y="1149.5" font-size="20.83" text-anchor="middle">-10</text>
<text x="1020.40" y="1149.5" font-size="20.83" text-anchor="middle">-5</text>
<text x="1142.60" y="1149.5" font-size="20.83" text-anchor="middle">0</text>
<text x="1264.80" y="1149.5" font-size="20.83" text-anchor="middle">5</text>
<path d="M286.80 1119.1v7.3M409.00 1119.1v7.3M531.20 1119.1v7.3M653.40 1119.1v7.3M775.60 1119.1v7.3M897.80 1119.1v7.3M1020.00 1119.1v7.3M1142.20 1119.1v7.3M1264.40 1119.1v7.3" stroke="#000" stroke-width="1.67" fill="none"/>
<text x="775.9" y="1177.5" font-size="20.83" text-anchor="middle">CIN (J/kg)</text>
</svg></body></html>
